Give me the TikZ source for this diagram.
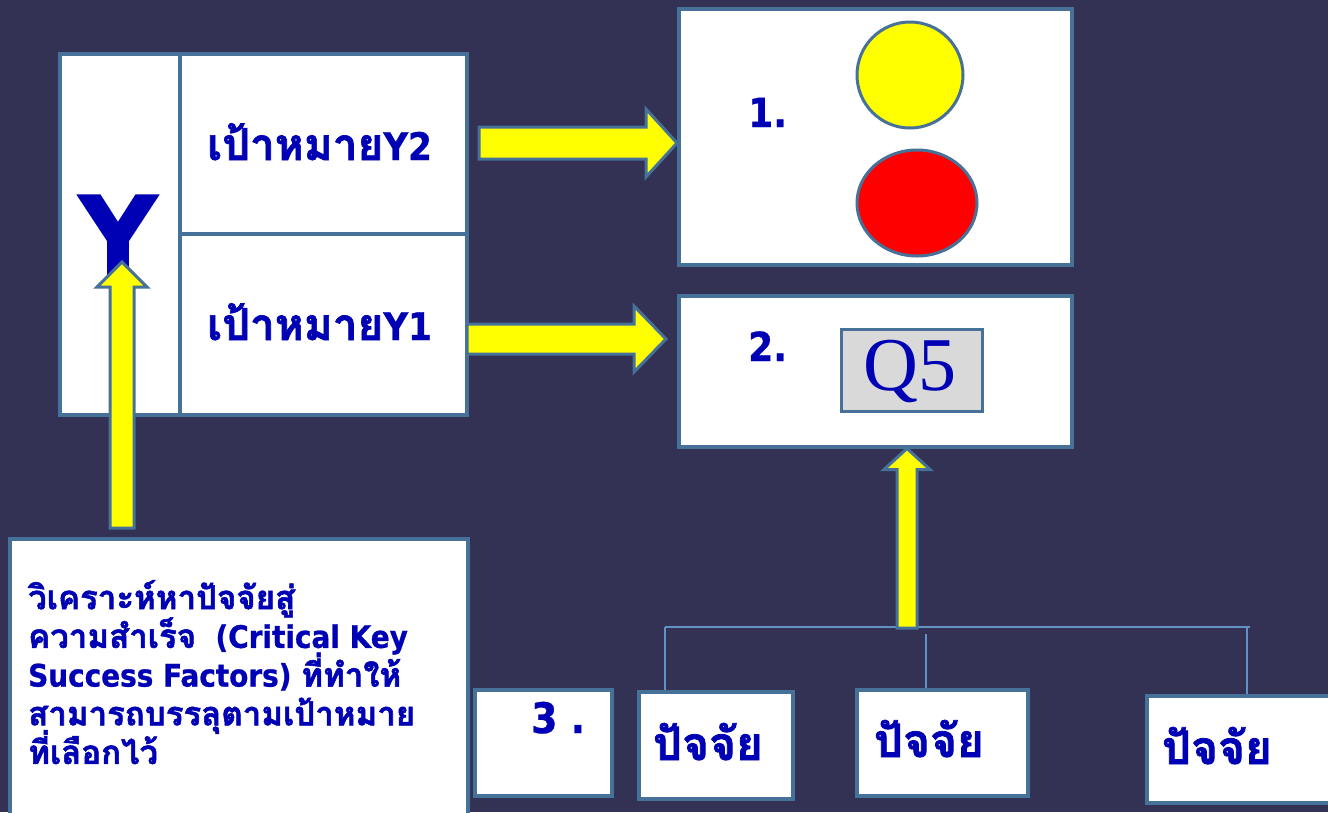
\documentclass[tikz,border=0pt]{standalone}
\usepackage{fontspec}
\setmainfont{DejaVu Sans}
\newfontfamily\thaif[Script=Thai,BoldFeatures={FakeBold=1.6}]{Loma}
\newfontfamily\latf[FakeStretch=0.9,BoldFeatures={FakeBold=0.8}]{DejaVu Sans}
\newfontfamily\bigyf[BoldFeatures={FakeBold=1.5}]{DejaVu Sans}
\newfontfamily\qfont{Liberation Serif}
\usetikzlibrary{calc,shapes.geometric}
\definecolor{bgc}{RGB}{51,49,84}
\definecolor{bord}{RGB}{70,113,153}
\definecolor{tblue}{RGB}{0,0,180}
\definecolor{ayel}{RGB}{255,255,0}
\definecolor{ared}{RGB}{255,0,0}
\definecolor{qgrey}{RGB}{217,217,217}
\definecolor{treec}{RGB}{100,145,195}
\newcommand\thtxt[1]{{\thaif\bfseries #1}}
\newcommand\latxt[1]{{\latf\bfseries #1}}
\newcommand\fsz[1]{\fontsize{#1}{#1}\selectfont}
\newcommand\parafont{\fontsize{31}{38.7}\selectfont\lineskiplimit=-100pt\lineskip=0pt}
\newcommand\thp{\fontsize{33}{38.7}\selectfont}
\newcommand\blkright[5]{%
  \draw[blockarrow] let \p1=(#1), \p2=(#2) in
  (\x1,\y2+#3) -- (\x2-#5,\y2+#3) -- (\x2-#5,\y2+#4) -- (\x2,\y2) --
  (\x2-#5,\y2-#4) -- (\x2-#5,\y2-#3) -- (\x1,\y2-#3) -- cycle;}
\newcommand\blkup[5]{%
  \draw[blockarrow] let \p1=(#1), \p2=(#2) in
  (\x2-#3,\y1) -- (\x2-#3,\y2-#5) -- (\x2-#4,\y2-#5) -- (\x2,\y2) --
  (\x2+#4,\y2-#5) -- (\x2+#3,\y2-#5) -- (\x2+#3,\y1) -- cycle;}
\tikzset{
  wbox/.style={draw=bord, fill=white, line width=3.5, inner sep=0, anchor=north west},
  txt/.style={text=tblue, inner sep=0},
  blockarrow/.style={draw=bord, fill=ayel, line width=3, line join=miter},
  treeline/.style={draw=treec, line width=2},
}
\begin{document}
\begin{tikzpicture}[x=1pt,y=-1pt]
\useasboundingbox (0,0) rectangle (1328,812);
\clip (0,0) rectangle (1328,812);
\fill[bgc] (0,0) rectangle (1328,812);

% tree lines
\coordinate (tl) at (665,627);
\coordinate (tr) at (1250,627);
\coordinate (tr2) at (1247,627);
\coordinate (tm) at (926,634);

% boxes
\node[wbox, minimum width=120, minimum height=361] (yleft) at (58,52) {};
\node[wbox, minimum width=287, minimum height=180] (y2box) at (178,52) {};
\node[wbox, minimum width=287, minimum height=181] (y1box) at (178,232) {};
\node[wbox, minimum width=393, minimum height=256] (box1) at (677,7) {};
\node[wbox, minimum width=393, minimum height=151] (box2) at (677,294) {};
\node[wbox, minimum width=458, minimum height=290] (parabox) at (8,537) {};
\node[wbox, minimum width=137, minimum height=106] (b3) at (473,688) {};
\node[wbox, minimum width=154, minimum height=107] (fA) at (637,690) {};
\node[wbox, minimum width=171, minimum height=106] (fB) at (855,688) {};
\node[wbox, minimum width=200, minimum height=107] (fC) at (1145,694) {};

\draw[treeline] (tl) -- (tr);
\draw[treeline] (tl) -- (tl |- fA.north);
\draw[treeline] (tm) -- (tm |- fB.north);
\draw[treeline] (tr2) -- (tr2 |- fC.north);

% circles
\node[circle, draw=bord, fill=ayel, line width=3, minimum size=106, inner sep=0] (ycirc) at (910,75) {};
\node[ellipse, draw=bord, fill=ared, line width=3, minimum width=120, minimum height=106, inner sep=0] (rcirc) at (917,203) {};

% Q5
\node[draw=bord, fill=qgrey, line width=3, minimum width=141, minimum height=82, anchor=north west, inner sep=0] (q5box) at (840,328) {};
\node[txt, anchor=base, font=\qfont\fsz{76}] (q5t) at (910,390) {Q5};

% texts
\node[txt, anchor=base, font=\bigyf\bfseries\fsz{108}] (bigy) at (118,274) {Y};
\node[txt, anchor=base west, font=\fsz{38}] (y2t) at (207,160) {\thtxt{\fsz{44}เป้าหมาย}\latxt{Y2}};
\node[txt, anchor=base west, font=\fsz{38}] (y1t) at (207,340) {\thtxt{\fsz{44}เป้าหมาย}\latxt{Y1}};
\node[txt, anchor=base west, font=\fsz{40}] (n1) at (748,127) {\latxt{1.}};
\node[txt, anchor=base west, font=\fsz{40}] (n2) at (748,361) {\latxt{2.}};
\node[txt, anchor=base west, font=\fsz{42}] (n3) at (531,733) {\latxt{3 .}};
\node[txt, anchor=base, font=\fsz{46}] (fAt) at (708,760) {\thtxt{ปัจจัย}};
\node[txt, anchor=base, font=\fsz{46}] (fBt) at (929,757) {\thtxt{ปัจจัย}};
\node[txt, anchor=base, font=\fsz{46}] (fCt) at (1217,764) {\thtxt{ปัจจัย}};
\node[txt, anchor=north west, align=left, font=\parafont] (para) at (28,580)
 {\thtxt{\thp วิเคราะห์หาปัจจัยสู่}\\
  \thtxt{\thp ความสำเร็จ}\latxt{\ \ (Critical Key}\\
  \latxt{Success Factors)} \thtxt{\thp ที่ทำให้}\\
  \thtxt{\thp สามารถบรรลุตามเป้าหมาย}\\
  \thtxt{\thp ที่เลือกไว้}};

% block arrows
\coordinate (a1s) at (479,143);
\coordinate (a2s) at (467,339);
\coordinate (a2t) at (666,339);
\coordinate (yas) at (122,528);
\coordinate (yat) at (122,262);
\coordinate (qas) at (907,628);
\blkright{a1s}{box1.west |- a1s}{16pt}{34pt}{31pt}
\blkright{a2s}{a2t}{15pt}{33pt}{32pt}
\blkup{yas}{yat}{12pt}{25pt}{25pt}
\blkup{qas}{box2.south -| qas}{10pt}{23pt}{21pt}
\end{tikzpicture}
\end{document}
